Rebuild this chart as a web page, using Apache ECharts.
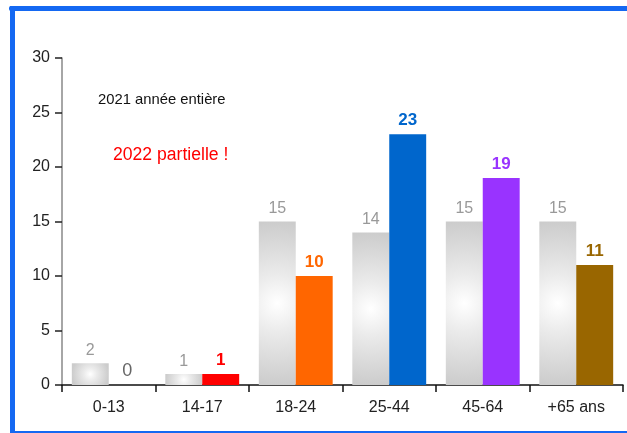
<!DOCTYPE html>
<html>
<head>
<meta charset="utf-8">
<script src="https://cdn.jsdelivr.net/npm/echarts@6/dist/echarts.min.js"></script>
<style>
html,body{margin:0;padding:0;background:#fff;}
#c{width:627px;height:433px;}
</style>
</head>
<body>
<div id="c"></div>
<script>
const categories = ['0-13', '14-17', '18-24', '25-44', '45-64', '+65 ans'];
const values2021 = [2, 1, 15, 14, 15, 15];
const values2022 = [0, 1, 10, 23, 19, 11];
const colors2022 = ['#666666', '#ff0000', '#ff6600', '#0066cc', '#9933ff', '#996600'];
const yTicks = { min: 0, max: 30, interval: 5 };
const note2021 = '2021 année entière';
const note2022 = '2022 partielle !';

const FONT = '"Liberation Sans", Arial, sans-serif';
const BLUE = '#1468f2';

const chart = echarts.init(document.getElementById('c'), null, { renderer: 'canvas' });

function grayData(grads) {
  return values2021.map((v, i) => ({
    value: v,
    itemStyle: { color: grads ? grads[i] : '#dddddd' }
  }));
}

function colorData() {
  return values2022.map((v, i) => {
    const item = { value: v, itemStyle: { color: colors2022[i] } };
    if (v === 0) {
      item.label = { color: '#666666', fontWeight: 'normal', fontSize: 18 };
    } else {
      item.label = { color: colors2022[i] };
    }
    return item;
  });
}

const option = {
  animation: false,
  backgroundColor: '#ffffff',
  grid: { left: 62, right: 4, top: 58, bottom: 48, containLabel: false },
  xAxis: {
    type: 'category',
    data: categories,
    axisLine: { show: true, lineStyle: { color: '#111111', width: 1.5 } },
    axisTick: { show: true, length: 7, lineStyle: { color: '#111111', width: 1.5 } },
    axisLabel: { color: '#222222', fontSize: 16, fontFamily: FONT, margin: 15 },
    splitLine: { show: false }
  },
  yAxis: {
    type: 'value',
    min: yTicks.min,
    max: yTicks.max,
    interval: yTicks.interval,
    axisLine: { show: true, lineStyle: { color: '#888888', width: 1.5 } },
    axisTick: { show: true, length: 7, lineStyle: { color: '#222222', width: 1.5 } },
    axisLabel: { color: '#222222', fontSize: 16, fontFamily: FONT, margin: 12 },
    splitLine: { show: false }
  },
  series: [
    {
      type: 'bar',
      name: '2021',
      data: grayData(null),
      barGap: '0%',
      barCategoryGap: '21%',
      label: { show: true, position: 'top', distance: 5, color: '#999999', fontSize: 16, fontFamily: FONT }
    },
    {
      type: 'bar',
      name: '2022',
      data: colorData(),
      barGap: '0%',
      barCategoryGap: '21%',
      label: { show: true, position: 'top', distance: 5, fontSize: 17, fontWeight: 'bold', fontFamily: FONT }
    }
  ],
  graphic: [
    { type: 'text', left: 98, top: 92, style: { text: note2021, fill: '#111111', font: '14.8px ' + FONT } },
    { type: 'text', left: 113, top: 146, style: { text: note2022, fill: '#ff0000', font: '17.6px ' + FONT } },
    { type: 'rect', shape: { x: 9, y: 6, width: 630, height: 5, r: 2 }, style: { fill: BLUE } },
    { type: 'rect', shape: { x: 10, y: 6, width: 5, height: 427 }, style: { fill: BLUE } },
    { type: 'rect', shape: { x: 10, y: 431, width: 630, height: 2 }, style: { fill: BLUE } }
  ]
};

chart.setOption(option);

// Radial gradients for the gray bars, sized from the bar geometry given by the axes
const y0 = chart.convertToPixel({ yAxisIndex: 0 }, 0);
const xa = chart.convertToPixel({ xAxisIndex: 0 }, 0);
const xb = chart.convertToPixel({ xAxisIndex: 0 }, 1);
const barW = Math.abs(xb - xa) * (1 - 0.21) / 2;
const grads = values2021.map(v => {
  const h = Math.abs(y0 - chart.convertToPixel({ yAxisIndex: 0 }, v));
  const mn = Math.max(1, Math.min(barW, h));
  const mx = Math.max(barW, h);
  const r = (mx / 2) / mn;
  return new echarts.graphic.RadialGradient(0.5, 0.5, r, [
    { offset: 0, color: '#ffffff' },
    { offset: 0.35, color: '#ebebeb' },
    { offset: 1, color: '#cccccc' }
  ]);
});
chart.setOption({ series: [{ data: grayData(grads) }, {}] });
</script>
</body>
</html>
